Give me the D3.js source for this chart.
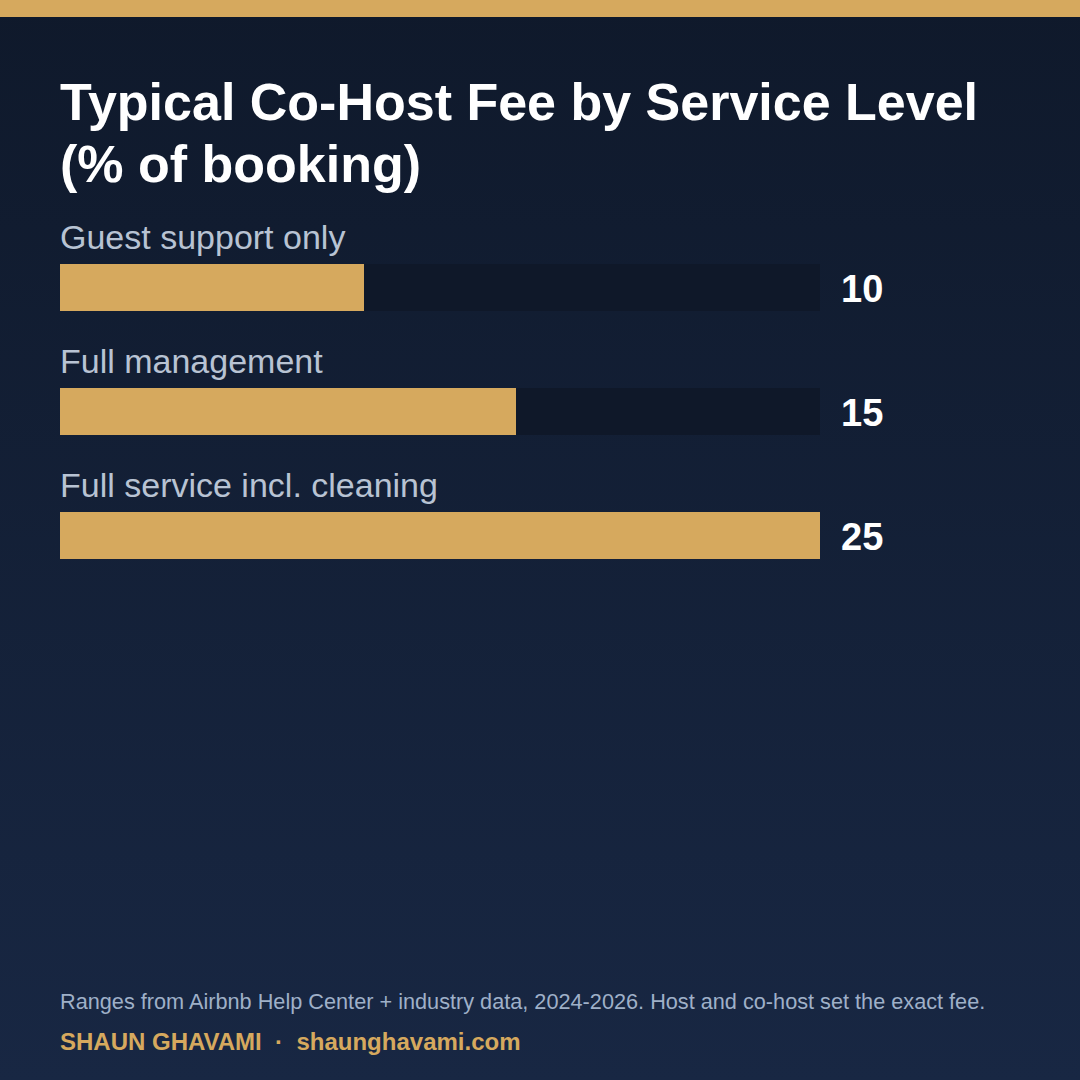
<!DOCTYPE html>
<html>
<head>
<meta charset="utf-8">
<script src="https://cdn.jsdelivr.net/npm/d3@7"></script>
<style>
  html, body { margin: 0; padding: 0; background: #121d31; }
  svg { display: block; font-family: "Liberation Sans", Arial, sans-serif; }
</style>
</head>
<body>
<svg id="chart" width="1080" height="1080"></svg>
<script>
// data
const categories = ["Guest support only", "Full management", "Full service incl. cleaning"];
const fees = [10, 15, 25];
const titleLines = ["Typical Co-Host Fee by Service Level", "(% of booking)"];
const note = "Ranges from Airbnb Help Center + industry data, 2024-2026. Host and co-host set the exact fee.";

const svg = d3.select("#chart");
const W = 1080, H = 1080;

// background gradient
const defs = svg.append("defs");
const grad = defs.append("linearGradient")
  .attr("id", "bg").attr("x1", 0).attr("y1", 0).attr("x2", 0).attr("y2", 1);
grad.append("stop").attr("offset", "0%").attr("stop-color", "#0f192b");
grad.append("stop").attr("offset", "100%").attr("stop-color", "#182743");

svg.append("rect").attr("width", W).attr("height", H).attr("fill", "url(#bg)");
svg.append("rect").attr("width", W).attr("height", 17).attr("fill", "#d6a95e");

// title
svg.append("g").selectAll("text")
  .data(titleLines)
  .enter().append("text")
  .attr("x", 60)
  .attr("y", (d, i) => 120 + i * 62)
  .attr("fill", "#ffffff")
  .style("font-size", "52px")
  .style("font-weight", "bold")
  .text(d => d);

const x = d3.scaleLinear()
  .domain([0, d3.max(fees)])
  .range([0, 760]);

const y = d3.scaleBand()
  .domain(categories)
  .range([220, 592])
  .paddingInner(0);

const rows = svg.append("g")
  .attr("transform", "translate(60,0)")
  .selectAll(".row")
  .data(categories)
  .enter().append("g")
  .attr("class", "row")
  .attr("transform", d => "translate(0," + y(d) + ")");

// category labels
rows.append("text")
  .attr("x", 0)
  .attr("y", 29)
  .attr("fill", "#b8c3d3")
  .style("font-size", "34px")
  .text(d => d);

// track
rows.append("rect")
  .attr("x", 0)
  .attr("y", 44)
  .attr("width", x.range()[1])
  .attr("height", 47)
  .attr("fill", "#0f1829");

// bars
rows.append("rect")
  .attr("x", 0)
  .attr("y", 44)
  .attr("width", (d, i) => x(fees[i]))
  .attr("height", 47)
  .attr("fill", "#d6a95e");

// values
rows.append("text")
  .attr("x", x.range()[1] + 21)
  .attr("y", 82)
  .attr("fill", "#ffffff")
  .style("font-size", "38px")
  .style("font-weight", "bold")
  .text((d, i) => fees[i]);

// footer
svg.append("text")
  .attr("x", 60)
  .attr("y", 1009)
  .attr("fill", "#9fb0c8")
  .style("font-size", "21.7px")
  .text(note);

svg.append("text")
  .attr("x", 60)
  .attr("y", 1050)
  .attr("fill", "#d6a95e")
  .style("font-size", "24px")
  .style("font-weight", "bold")
  .style("white-space", "pre")
  .text("SHAUN GHAVAMI  \u00b7  shaunghavami.com");
</script>
</body>
</html>
